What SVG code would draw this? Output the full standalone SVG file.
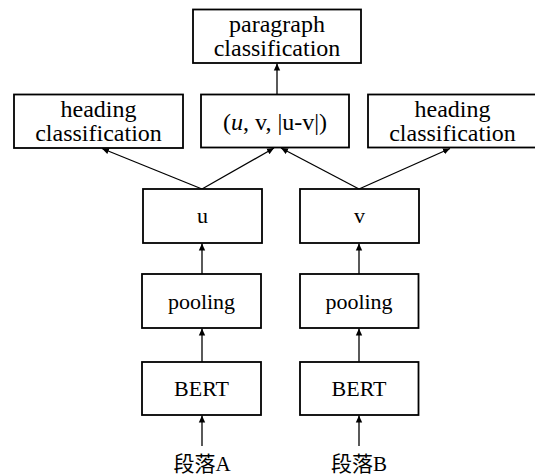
<svg xmlns="http://www.w3.org/2000/svg" width="535" height="475" viewBox="0 0 535 475">
<defs>
<style>
.box{fill:#fff;stroke:#000;stroke-width:1.8}
.t{font-family:"Liberation Serif","Times New Roman",serif;fill:#000;text-anchor:middle}
.top{font-size:24px}
.low{font-size:22px}
.cjk{font-family:"Liberation Serif","Noto Sans CJK SC",serif;font-size:21px;fill:#000;text-anchor:middle}
.c{stroke:#000;stroke-width:1.3;fill:none;marker-end:url(#ah)}
</style>
<marker id="ah" markerUnits="userSpaceOnUse" markerWidth="8" markerHeight="8" refX="7" refY="4" orient="auto">
<path d="M0,0.8 L7,4 L0,7.2 Z" fill="#000"/>
</marker>
</defs>
<rect width="535" height="475" fill="#fff"/>
<g id="connectors">
<line class="c" x1="277" y1="94" x2="277" y2="63.5"/>
<line class="c" x1="202" y1="189" x2="102" y2="148.5"/>
<line class="c" x1="202" y1="189" x2="274" y2="148"/>
<line class="c" x1="359" y1="189" x2="281" y2="148"/>
<line class="c" x1="359" y1="189" x2="450" y2="148.5"/>
<line class="c" x1="202" y1="274" x2="202" y2="243.5"/>
<line class="c" x1="359" y1="274" x2="359" y2="243.5"/>
<line class="c" x1="202" y1="362" x2="202" y2="328.5"/>
<line class="c" x1="359" y1="362" x2="359" y2="328.5"/>
<line class="c" x1="202" y1="446" x2="202" y2="415.5"/>
<line class="c" x1="359" y1="446" x2="359" y2="415.5"/>
</g>
<g id="paragraph">
<rect class="box" x="193" y="9.5" width="168" height="53.5"/>
<text class="t top" x="277" y="32">paragraph</text>
<text class="t top" x="277" y="56">classification</text>
</g>
<g id="headingA">
<rect class="box" x="14" y="94.5" width="169" height="53.5"/>
<text class="t top" x="98.5" y="117">heading</text>
<text class="t top" x="98.5" y="141">classification</text>
</g>
<g id="concat">
<rect class="box" x="201" y="94.5" width="148" height="53"/>
<text class="t top" x="275" y="130">(<tspan font-style="italic">u</tspan>, v, |u-v|)</text>
</g>
<g id="headingB">
<rect class="box" x="368" y="94.5" width="170" height="53"/>
<text class="t top" x="452.5" y="117">heading</text>
<text class="t top" x="452.5" y="141">classification</text>
</g>
<g id="u">
<rect class="box" x="143" y="189" width="119" height="54"/>
<text class="t low" x="202.5" y="223">u</text>
</g>
<g id="v">
<rect class="box" x="300" y="189" width="119" height="54"/>
<text class="t low" x="359.5" y="223">v</text>
</g>
<g id="poolingA">
<rect class="box" x="142" y="274" width="119" height="54"/>
<text class="t low" x="201.5" y="309">pooling</text>
</g>
<g id="poolingB">
<rect class="box" x="300" y="274" width="118.5" height="54"/>
<text class="t low" x="359" y="309">pooling</text>
</g>
<g id="bertA">
<rect class="box" x="142" y="362" width="119" height="53"/>
<text class="t low" x="201.5" y="396">BERT</text>
</g>
<g id="bertB">
<rect class="box" x="300" y="362" width="118.5" height="53"/>
<text class="t low" x="359" y="396">BERT</text>
</g>
<g id="inputA">
<text class="cjk" x="202" y="471">段落A</text>
</g>
<g id="inputB">
<text class="cjk" x="359" y="471">段落B</text>
</g>
</svg>
